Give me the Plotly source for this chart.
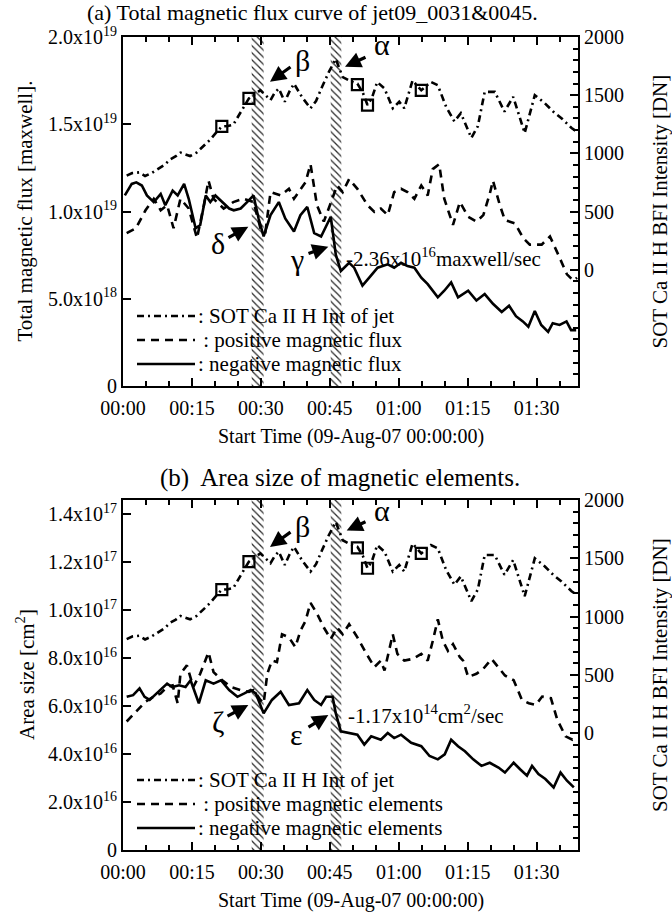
import pandas as pd
import plotly.graph_objects as go

# ---------------- data (minutes after 09-Aug-07 00:00:00) ----------------
band_times = [(28.0, 30.6), (45.2, 47.5)]

jet_t = [0.8, 2.0, 3.5, 4.8, 6.2, 7.7, 9.0, 10.3, 11.5, 12.5, 13.6, 14.6, 16.0, 17.5,
         19.0, 20.3, 21.5, 22.8, 24.0, 25.7, 27.4, 28.7, 29.9, 31.0, 32.1, 33.0, 33.9,
         35.2, 36.2, 37.2, 39.0, 40.8, 42.0, 43.3, 44.8, 46.3, 47.8, 49.5, 51.0, 52.2,
         53.2, 54.2, 55.3, 56.9, 58.7, 60.1, 61.2, 63.0, 64.9, 67.0, 68.5, 70.3, 72.1,
         73.5, 75.8, 77.2, 78.7, 80.9, 83.0, 84.9, 87.4, 89.6, 91.8, 93.6, 95.4, 97.6, 98.6]
jet_v = [808, 830, 836, 805, 830, 864, 900, 949, 975, 1006, 990, 977, 1006, 1060,
         1119, 1180, 1231, 1235, 1246, 1360, 1472, 1510, 1542, 1500, 1458, 1520, 1557,
         1443, 1530, 1599, 1480, 1387, 1450, 1570, 1700, 1811, 1655, 1620, 1599, 1520,
         1415, 1480, 1613, 1557, 1387, 1443, 1387, 1627, 1542, 1613, 1585, 1401, 1274,
         1345, 1133, 1232, 1528, 1528, 1359, 1486, 1175, 1500, 1430, 1359, 1302, 1218, 1190]
jet_sq_t = [21.5, 27.4, 51.0, 53.2, 64.9]
jet_sq_v = [1231, 1472, 1590, 1415, 1542]

# (a) total magnetic flux [maxwell], in units of 1e18
flux_pos_t = [0.8, 2.8, 4.9, 6.7, 8.2, 9.6, 11.0, 12.5, 14.3, 16.1, 17.6, 18.6, 19.7, 21.9,
              24.0, 26.2, 28.4, 29.9, 31.0, 32.1, 34.3, 36.1, 37.2, 38.6, 39.7, 40.8, 42.2,
              43.7, 45.2, 46.6, 47.8, 49.2, 51.0, 53.2, 54.7, 56.1, 57.6, 59.0, 60.5, 61.9,
              63.4, 64.9, 66.3, 67.4, 68.8, 69.9, 71.8, 73.3, 75.1, 76.9, 78.4, 79.8, 80.5,
              82.0, 83.1, 85.3, 87.1, 88.5, 91.1, 92.9, 94.7, 96.6, 98.0, 98.8]
flux_pos_v = [8.76, 9.04, 10.07, 10.73, 10.07, 10.36, 9.04, 10.73, 10.17, 8.47, 10.36, 11.77,
              10.73, 10.17, 10.54, 10.73, 10.54, 9.04, 8.85, 11.11, 10.92, 11.30, 10.73, 11.30,
              11.67, 12.71, 10.36, 9.42, 10.54, 11.49, 11.11, 11.86, 11.30, 10.36, 9.98, 10.17,
              9.79, 11.11, 11.30, 11.11, 10.73, 11.49, 10.92, 12.43, 12.71, 10.73, 9.23, 10.54,
              9.70, 9.42, 9.79, 11.01, 11.77, 10.36, 9.51, 9.32, 8.47, 8.10, 8.10, 8.57, 7.53,
              6.40, 6.03, 6.20]
flux_neg_t = [0.4, 1.9, 2.9, 4.1, 5.2, 6.7, 8.2, 9.2, 10.8, 11.9, 13.3, 14.3, 15.8, 16.8,
              18.0, 19.0, 20.1, 21.6, 23.1, 24.1, 25.6, 27.0, 28.4, 29.5, 30.6, 32.1, 33.9,
              35.3, 37.2, 38.6, 40.1, 41.6, 43.1, 45.2, 46.3, 47.4, 49.2, 50.3, 52.1, 53.9,
              55.4, 57.6, 59.0, 60.5, 61.9, 63.4, 64.9, 66.3, 68.5, 69.9, 71.4, 72.9, 75.1,
              76.9, 78.7, 80.5, 82.4, 84.0, 85.5, 87.0, 88.2, 89.6, 91.0, 92.5, 93.5, 95.0,
              96.5, 97.5, 98.6]
flux_neg_v = [10.92, 11.58, 11.67, 11.49, 10.92, 10.54, 11.01, 10.36, 11.20, 10.92, 11.58,
              10.73, 9.04, 9.23, 10.92, 10.54, 10.92, 10.54, 10.17, 10.07, 10.17, 10.54, 10.92,
              9.60, 8.57, 9.79, 10.54, 9.60, 8.85, 9.79, 10.26, 8.76, 8.57, 9.70, 7.53, 6.59,
              7.06, 6.78, 5.75, 6.31, 6.78, 6.97, 6.78, 7.06, 6.87, 6.78, 6.21, 5.84, 5.08,
              5.46, 5.93, 5.08, 5.46, 4.90, 5.27, 4.71, 4.24, 4.60, 4.00, 3.70, 3.40, 4.30,
              3.50, 3.10, 3.60, 3.50, 3.70, 3.20, 3.20]

# (b) area size [cm^2], in units of 1e16
area_pos_t = [0.8, 2.8, 4.9, 6.7, 8.2, 9.6, 10.8, 11.9, 12.5, 13.9, 15.3, 16.8, 18.6, 19.7,
              21.6, 23.5, 25.6, 27.4, 28.4, 29.9, 30.6, 31.4, 32.4, 33.5, 34.6, 36.1, 37.5,
              38.6, 39.7, 40.8, 42.3, 43.7, 45.2, 46.6, 47.8, 49.2, 51.0, 53.2, 54.7, 56.1,
              56.9, 58.7, 59.7, 61.2, 63.0, 64.9, 66.3, 67.4, 68.5, 69.6, 70.7, 71.8, 73.3,
              74.0, 75.1, 76.9, 78.4, 80.2, 81.7, 83.1, 85.0, 86.8, 88.3, 89.8, 91.2, 93.1,
              94.5, 96.3, 97.8, 98.8]
area_pos_v = [5.36, 5.77, 6.19, 6.40, 6.53, 6.80, 6.87, 6.12, 7.35, 7.70, 6.80, 7.35, 8.25,
              7.42, 7.08, 6.80, 6.67, 6.60, 6.67, 6.26, 6.12, 7.35, 7.90, 7.84, 9.00, 8.87,
              8.46, 9.14, 9.55, 10.31, 9.83, 9.28, 8.80, 9.28, 9.00, 9.42, 8.87, 8.11, 7.63,
              7.90, 7.49, 9.00, 8.18, 7.90, 7.97, 8.18, 7.90, 8.72, 9.62, 8.72, 8.31, 8.59,
              8.04, 7.90, 7.22, 7.35, 7.56, 7.97, 7.63, 7.28, 7.08, 6.26, 6.12, 6.05, 6.40,
              6.33, 5.43, 4.74, 4.60, 4.70]
area_neg_t = [0.8, 2.2, 3.6, 4.7, 5.8, 6.9, 8.4, 9.6, 10.7, 12.2, 13.6, 14.7, 16.5, 18.0,
              19.7, 21.3, 23.1, 24.9, 26.4, 27.8, 28.9, 30.6, 32.4, 34.3, 36.1, 38.3, 40.1,
              41.6, 43.1, 44.2, 45.6, 46.3, 47.4, 49.2, 51.0, 52.5, 54.0, 56.1, 57.6, 59.0,
              60.5, 62.7, 64.9, 66.7, 68.5, 70.0, 71.4, 72.9, 74.4, 76.2, 78.0, 79.8, 81.7,
              83.1, 85.0, 86.4, 87.9, 89.0, 90.4, 91.9, 93.7, 95.2, 96.6, 98.1]
area_neg_v = [6.39, 6.46, 6.74, 6.39, 6.26, 6.46, 6.74, 6.94, 6.80, 6.87, 6.80, 7.08, 6.12,
              7.08, 6.94, 7.08, 6.67, 6.39, 6.53, 6.67, 6.53, 5.70, 6.26, 6.60, 6.05, 6.12,
              6.67, 6.26, 6.05, 6.39, 6.39, 5.70, 4.95, 4.88, 4.81, 4.40, 4.74, 4.60, 4.88,
              4.67, 4.81, 4.47, 4.33, 3.92, 3.78, 3.99, 4.60, 4.33, 4.12, 3.78, 3.51, 3.64,
              3.44, 3.23, 3.64, 3.37, 3.10, 3.51, 3.17, 2.96, 2.61, 3.23, 2.89, 2.61]

flux_ticks = [0, 5e18, 1e19, 1.5e19, 2e19]
flux_ticktext = ["0", "5.0x10<sup>18</sup>", "1.0x10<sup>19</sup>", "1.5x10<sup>19</sup>",
                 "2.0x10<sup>19</sup>"]
area_ticks = [0, 2e16, 4e16, 6e16, 8e16, 1e17, 1.2e17, 1.4e17]
area_ticktext = ["0", "2.0x10<sup>16</sup>", "4.0x10<sup>16</sup>", "6.0x10<sup>16</sup>",
                 "8.0x10<sup>16</sup>", "1.0x10<sup>17</sup>", "1.2x10<sup>17</sup>",
                 "1.4x10<sup>17</sup>"]
int_ticks = [0, 500, 1000, 1500, 2000]

# ---------------- helpers ----------------
T0 = pd.Timestamp("2007-08-09 00:00:00")


def tt(mins):
    return [T0 + pd.Timedelta(minutes=m) for m in mins]


W, H = 672, 913
PX0, PX1 = 123, 578
TOP = (37, 386)
BOT = (500, 850)
FONT = "Liberation Serif"
FLUX_MAX = 2.0e19
AREA_MAX = 1.46e17
INT_RANGE = [-1000, 2000]
X_END_MIN = 99.0


def px(x):
    return x / W


def py(y):
    return 1 - y / H


fig = go.Figure()

# hatched bands
for ta, tb in band_times:
    for xa, ya, ymax in (("x", "y", FLUX_MAX), ("x2", "y3", AREA_MAX)):
        fig.add_trace(go.Scatter(
            x=tt([ta, tb, tb, ta, ta]), y=[0, 0, ymax, ymax, 0], xaxis=xa, yaxis=ya,
            mode="lines", fill="toself", line=dict(width=0, color="rgba(0,0,0,0)"),
            fillcolor="rgba(0,0,0,0)",
            fillpattern=dict(shape="\\", size=5, solidity=0.25, fgcolor="#2a2a2a",
                             bgcolor="rgba(0,0,0,0)", fillmode="replace"),
            hoverinfo="skip", showlegend=False))

DASH = "8px,6px"
DASHDOT = "7px,4px,2px,4px"
LW = 2.6

# panel (a)
fig.add_trace(go.Scatter(x=tt(flux_pos_t), y=[v * 1e18 for v in flux_pos_v], xaxis="x", yaxis="y",
                         mode="lines", line=dict(color="black", width=LW, dash=DASH), showlegend=False))
fig.add_trace(go.Scatter(x=tt(flux_neg_t), y=[v * 1e18 for v in flux_neg_v], xaxis="x", yaxis="y",
                         mode="lines", line=dict(color="black", width=LW), showlegend=False))
fig.add_trace(go.Scatter(x=tt(jet_t), y=jet_v, xaxis="x", yaxis="y2",
                         mode="lines", line=dict(color="black", width=LW, dash=DASHDOT), showlegend=False))
fig.add_trace(go.Scatter(x=tt(jet_sq_t), y=jet_sq_v, xaxis="x", yaxis="y2", mode="markers",
                         marker=dict(symbol="square-open", size=11, color="black", line=dict(width=2.2)),
                         showlegend=False))
# panel (b)
fig.add_trace(go.Scatter(x=tt(area_pos_t), y=[v * 1e16 for v in area_pos_v], xaxis="x2", yaxis="y3",
                         mode="lines", line=dict(color="black", width=LW, dash=DASH), showlegend=False))
fig.add_trace(go.Scatter(x=tt(area_neg_t), y=[v * 1e16 for v in area_neg_v], xaxis="x2", yaxis="y3",
                         mode="lines", line=dict(color="black", width=LW), showlegend=False))
fig.add_trace(go.Scatter(x=tt(jet_t), y=jet_v, xaxis="x2", yaxis="y4",
                         mode="lines", line=dict(color="black", width=LW, dash=DASHDOT), showlegend=False))
fig.add_trace(go.Scatter(x=tt(jet_sq_t), y=jet_sq_v, xaxis="x2", yaxis="y4", mode="markers",
                         marker=dict(symbol="square-open", size=11, color="black", line=dict(width=2.2)),
                         showlegend=False))

tickfont = dict(family=FONT, size=20, color="black")
xr = [T0, T0 + pd.Timedelta(minutes=X_END_MIN)]
common_x = dict(range=xr, type="date", tickformat="%H:%M", dtick=15 * 60 * 1000, tick0=T0,
                ticks="inside", ticklen=8, tickwidth=1.5, tickcolor="black",
                minor=dict(dtick=5 * 60 * 1000, tick0=T0, ticks="inside", ticklen=5,
                           tickwidth=1.5, tickcolor="black"),
                showline=True, linewidth=2, linecolor="black", mirror="ticks",
                showgrid=False, zeroline=False, tickfont=tickfont, automargin=False,
                ticklabelstandoff=3)
common_yl = dict(ticks="inside", ticklen=8, tickwidth=1.5, tickcolor="black",
                 showline=True, linewidth=2, linecolor="black", showgrid=False,
                 zeroline=False, tickfont=tickfont, automargin=False, tickmode="array")
common_yr = dict(ticks="inside", ticklen=8, tickwidth=1.5, tickcolor="black",
                 showline=True, linewidth=2, linecolor="black", showgrid=False,
                 zeroline=False, tickfont=tickfont, automargin=False, side="right",
                 range=INT_RANGE, tickmode="array", tickvals=int_ticks,
                 minor=dict(tickmode="linear", tick0=0, dtick=100, ticks="inside",
                            ticklen=5, tickwidth=1.5, tickcolor="black"))

xdom = [px(PX0), px(PX1)]
fig.update_layout(
    width=W, height=H, margin=dict(l=0, r=0, t=0, b=0),
    paper_bgcolor="white", plot_bgcolor="white", showlegend=False,
    font=dict(family=FONT, color="black", size=20),
    xaxis=dict(domain=xdom, anchor="y", **common_x),
    yaxis=dict(domain=[py(TOP[1]), py(TOP[0])], anchor="x", range=[0, FLUX_MAX],
               tickvals=flux_ticks, ticktext=flux_ticktext, **common_yl),
    yaxis2=dict(overlaying="y", anchor="x", **common_yr),
    xaxis2=dict(domain=xdom, anchor="y3", **common_x),
    yaxis3=dict(domain=[py(BOT[1]), py(BOT[0])], anchor="x2", range=[0, AREA_MAX],
                tickvals=area_ticks, ticktext=area_ticktext, **common_yl),
    yaxis4=dict(overlaying="y3", anchor="x2", **common_yr),
)

ann = []


def text(x, y, s, size=21, xanchor="center", yanchor="middle", angle=0):
    ann.append(dict(x=px(x), y=py(y), xref="paper", yref="paper", text=s, showarrow=False,
                    xanchor=xanchor, yanchor=yanchor, textangle=angle,
                    font=dict(family=FONT, size=size, color="black")))


def arrow(hx, hy, tx, ty):
    ann.append(dict(x=px(hx), y=py(hy), xref="paper", yref="paper", ax=tx - hx, ay=ty - hy,
                    text="", showarrow=True, arrowhead=2, arrowsize=1.0, arrowwidth=3.2,
                    arrowcolor="black"))


# titles
text(312, 13, "(a) Total magnetic flux curve of jet09_0031&amp;0045.", size=22)
text(340, 478, "(b)  Area size of magnetic elements.", size=25)
# axis titles
for (a, b) in (TOP, BOT):
    mid = (a + b) / 2
    text(660, mid, "SOT Ca II H BFI Intensity [DN]", size=21, angle=-90)
    text((PX0 + PX1) / 2, b + 50, "Start Time (09-Aug-07 00:00:00)", size=20)
text(25, (TOP[0] + TOP[1]) / 2, "Total magnetic flux [maxwell].", size=21, angle=-90)
text(25, (BOT[0] + BOT[1]) / 2, "Area size [cm<sup>2</sup>]", size=21, angle=-90)

# greek labels + arrows, panel (a)
arrow(270, 81.7, 292, 66)
text(302, 60, "β", size=30)
arrow(345, 66.7, 367, 56.5)
text(382, 45, "α", size=30)
arrow(248.3, 226.7, 227, 238.5)
text(218, 243, "δ", size=30)
arrow(328.3, 246.7, 307, 254)
text(296.7, 259, "γ", size=30)
text(344, 257, "-2.36x10<sup>16</sup>maxwell/sec", size=21, xanchor="left")
# panel (b)
arrow(270, 547, 292, 531)
text(302, 526, "β", size=30)
arrow(346.7, 530.5, 367, 521)
text(382, 510, "α", size=30)
arrow(248.3, 705, 226, 717)
text(218, 721, "ζ", size=30)
arrow(328.3, 715, 307, 728)
text(296.7, 734, "ε", size=30)
text(346, 714, "-1.17x10<sup>14</sup>cm<sup>2</sup>/sec", size=21, xanchor="left")

# legends (manual, IDL style)
shapes = []
leg_rows = [
    (DASHDOT, ": SOT Ca II H Int of jet", ": SOT Ca II H Int of jet"),
    (DASH, " : positive magnetic flux", " : positive magnetic elements"),
    ("solid", ": negative magnetic flux", ": negative magnetic elements"),
]
for pi, (a, b) in enumerate((TOP, BOT)):
    for ri, (dash, ta, tb) in enumerate(leg_rows):
        yy = b - 70 + ri * 24
        shapes.append(dict(type="line", xref="paper", yref="paper", x0=px(137), x1=px(195),
                           y0=py(yy), y1=py(yy), line=dict(color="black", width=2.5, dash=dash)))
        text(196, yy, ta if pi == 0 else tb, size=21, xanchor="left")

fig.update_layout(annotations=ann, shapes=shapes)
fig.write_html("out.html")
